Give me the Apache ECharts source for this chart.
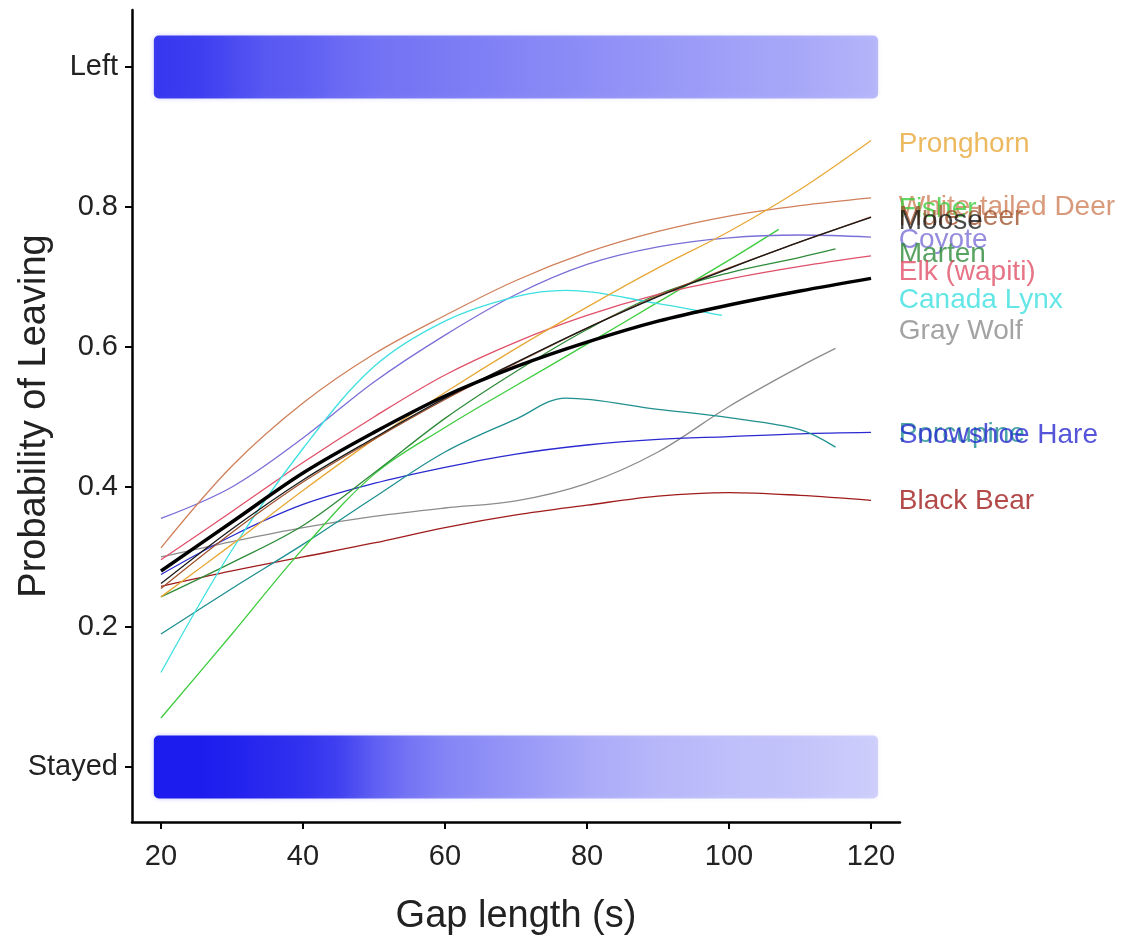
<!DOCTYPE html>
<html>
<head>
<meta charset="utf-8">
<script src="https://cdn.jsdelivr.net/npm/echarts@6/dist/echarts.min.js"></script>
<style>
html,body{margin:0;padding:0;background:#fff;}
#chart{width:1121px;height:946px;}
</style>
</head>
<body>
<div id="chart"></div>
<script>
// ---- tick labels ----
const xTicks = [20, 40, 60, 80, 100, 120];
const yTicks = [0, 0.2, 0.4, 0.6, 0.8, 1];
const yTickText = ['Stayed', '0.2', '0.4', '0.6', '0.8', 'Left'];

// ---- fitted curves (gap length -> probability of leaving) ----
const gapX = [20, 30, 40, 50, 60, 70, 80, 90, 100, 110, 120];
const overall = [0.280, 0.350, 0.420, 0.478, 0.530, 0.572, 0.607, 0.637, 0.660, 0.680, 0.698];
const pronghorn = [0.243, 0.318, 0.395, 0.468, 0.535, 0.598, 0.657, 0.713, 0.765, 0.825, 0.895];
const whiteTailedDeer = [0.313, 0.430, 0.520, 0.590, 0.645, 0.695, 0.735, 0.765, 0.787, 0.802, 0.813];
const muleDeer = [0.255, 0.335, 0.407, 0.468, 0.525, 0.577, 0.627, 0.673, 0.713, 0.750, 0.786];
const moose = [0.262, 0.340, 0.410, 0.470, 0.527, 0.578, 0.627, 0.672, 0.712, 0.750, 0.785];
const coyote = [0.355, 0.400, 0.470, 0.550, 0.617, 0.675, 0.718, 0.743, 0.756, 0.760, 0.757];
const elk = [0.296, 0.365, 0.435, 0.500, 0.560, 0.607, 0.645, 0.675, 0.697, 0.715, 0.730];
const snowshoeHare = [0.275, 0.330, 0.375, 0.405, 0.428, 0.447, 0.460, 0.468, 0.472, 0.476, 0.478];
const blackBear = [0.258, 0.280, 0.300, 0.320, 0.342, 0.360, 0.374, 0.387, 0.392, 0.388, 0.381];

const lynxX = [20, 30, 40, 50, 60, 70, 77, 90, 99];
const canadaLynx = [0.135, 0.310, 0.455, 0.572, 0.637, 0.672, 0.681, 0.662, 0.645];
const wolfX = [20, 30, 40, 50, 60, 70, 80, 90, 100, 110, 115];
const grayWolf = [0.300, 0.322, 0.342, 0.358, 0.370, 0.380, 0.405, 0.450, 0.515, 0.572, 0.598];
const porcupineX = [20, 30, 40, 50, 60, 70, 77, 90, 100, 110, 115];
const porcupine = [0.190, 0.255, 0.318, 0.385, 0.450, 0.497, 0.527, 0.511, 0.499, 0.482, 0.457];
const fisherX = [20, 30, 40, 50, 60, 70, 80, 90, 100, 107];
const fisher = [0.070, 0.190, 0.312, 0.418, 0.485, 0.545, 0.604, 0.664, 0.724, 0.768];
const martenX = [20, 30, 40, 50, 60, 70, 80, 90, 100, 110, 115];
const marten = [0.243, 0.292, 0.345, 0.420, 0.498, 0.565, 0.625, 0.675, 0.706, 0.728, 0.740];

// ---- species labels at right ----
const labelNames = ['Pronghorn', 'White-tailed Deer', 'Fisher', 'Mule deer', 'Moose', 'Coyote', 'Marten',
  'Elk (wapiti)', 'Canada Lynx', 'Gray Wolf', 'Porcupine', 'Snowshoe Hare', 'Black Bear'];
const labelY = [0.889, 0.800, 0.797, 0.785, 0.780, 0.753, 0.733, 0.707, 0.667, 0.623, 0.475, 0.474, 0.380];
const labelX = 123.9;

// ---- jittered observation bands (relative point density along gap length) ----
const densX = [19, 25, 30, 35, 40, 45, 50, 55, 60, 70, 80, 90, 100, 110, 121];
const leftDensity = [0.85, 0.82, 0.75, 0.68, 0.65, 0.60, 0.56, 0.54, 0.52, 0.48, 0.44, 0.40, 0.36, 0.33, 0.28];
const stayedDensity = [1.00, 1.00, 0.97, 0.92, 0.88, 0.80, 0.65, 0.55, 0.48, 0.40, 0.32, 0.27, 0.24, 0.22, 0.18];
const bandHalf = 0.045;

const colors = {
  pronghorn: '#E8A838', wtd: '#D0805A', fisher: '#3DCC3D', mule: '#A0522D', moose: '#1a1a1a',
  coyote: '#7A6FD6', marten: '#2E8B3A', elk: '#E05068', lynx: '#3DE0E0', wolf: '#8C8C8C',
  porcupine: '#1F8F8F', hare: '#2A2AD0', bear: '#A01C1C'
};
const labelColors = [colors.pronghorn, colors.wtd, colors.fisher, colors.mule, colors.moose, colors.coyote,
  colors.marten, colors.elk, colors.lynx, colors.wolf, colors.porcupine, colors.hare, colors.bear];

const FONT = '"Liberation Sans", Arial, sans-serif';

function zip(xs, ys) { return xs.map((x, i) => [x, ys[i]]); }
function lineSeries(name, xs, ys, color, width) {
  return {
    name, type: 'line', data: zip(xs, ys), smooth: 0.35, showSymbol: false, symbol: 'none',
    lineStyle: { color, width: width || 1.3 }, silent: true, z: 3
  };
}

const bands = [
  { y: 1, dens: leftDensity },
  { y: 0, dens: stayedDensity }
];

const chart = echarts.init(document.getElementById('chart'), null, { renderer: 'canvas' });
const option = {
  animation: false,
  backgroundColor: '#ffffff',
  grid: { left: 132, right: 221, top: 10, bottom: 124, containLabel: false, outerBoundsMode: 'none' },
  xAxis: {
    type: 'value', min: 15.92, max: 124.08,
    axisLine: { onZero: false, lineStyle: { color: '#000', width: 2.5 } },
    axisTick: { show: true, length: 7, customValues: xTicks, lineStyle: { color: '#000', width: 2 } },
    axisLabel: { customValues: xTicks, fontSize: 29, color: '#222', margin: 20, fontFamily: FONT },
    splitLine: { show: false },
    name: 'Gap length (s)', nameLocation: 'middle', nameGap: 76, nameMoveOverlap: false,
    nameTextStyle: { fontSize: 38, color: '#222', fontFamily: FONT }
  },
  yAxis: {
    type: 'value', min: -0.0786, max: 1.0814,
    axisLine: { onZero: false, lineStyle: { color: '#000', width: 2.5 } },
    axisTick: { show: true, length: 7, customValues: yTicks, lineStyle: { color: '#000', width: 2 } },
    axisLabel: {
      customValues: yTicks, fontSize: 29, color: '#222', margin: 14, fontFamily: FONT,
      formatter: v => { const i = yTicks.findIndex(t => Math.abs(t - v) < 1e-6); return i >= 0 ? yTickText[i] : ''; }
    },
    splitLine: { show: false },
    name: 'Probability of Leaving', nameLocation: 'middle', nameGap: 78, nameMoveOverlap: false,
    nameTextStyle: { fontSize: 38, color: '#222', fontFamily: FONT }
  },
  series: [
    {
      type: 'custom', silent: true, z: 1,
      data: bands.map(b => [densX[0], b.y]),
      renderItem: function (params, api) {
        const b = bands[params.dataIndex];
        const p1 = api.coord([densX[0], b.y + bandHalf]);
        const p2 = api.coord([densX[densX.length - 1], b.y - bandHalf]);
        const span = densX[densX.length - 1] - densX[0];
        const stops = densX.map((x, i) => ({
          offset: (x - densX[0]) / span,
          color: 'rgba(28,28,238,' + b.dens[i] + ')'
        }));
        return {
          type: 'rect',
          shape: { x: p1[0], y: p1[1], width: p2[0] - p1[0], height: p2[1] - p1[1], r: 5 },
          style: {
            fill: new echarts.graphic.LinearGradient(0, 0, 1, 0, stops),
            shadowBlur: 5, shadowColor: 'rgba(28,28,238,0.25)'
          }
        };
      }
    },
    lineSeries('Black Bear', gapX, blackBear, colors.bear),
    lineSeries('Gray Wolf', wolfX, grayWolf, colors.wolf),
    lineSeries('Snowshoe Hare', gapX, snowshoeHare, colors.hare),
    lineSeries('Porcupine', porcupineX, porcupine, colors.porcupine),
    lineSeries('Fisher', fisherX, fisher, colors.fisher),
    lineSeries('Marten', martenX, marten, colors.marten),
    lineSeries('Elk (wapiti)', gapX, elk, colors.elk),
    lineSeries('Coyote', gapX, coyote, colors.coyote),
    lineSeries('White-tailed Deer', gapX, whiteTailedDeer, colors.wtd),
    lineSeries('Canada Lynx', lynxX, canadaLynx, colors.lynx),
    lineSeries('Pronghorn', gapX, pronghorn, colors.pronghorn),
    lineSeries('Mule deer', gapX, muleDeer, colors.mule),
    lineSeries('Moose', gapX, moose, colors.moose),
    lineSeries('Overall', gapX, overall, '#000000', 3.5),
    {
      type: 'scatter', silent: true, clip: false, z: 5,
      symbolSize: 0.1, itemStyle: { color: 'rgba(0,0,0,0)' },
      data: labelNames.map((n, i) => ({
        name: n, value: [labelX, labelY[i]],
        label: { color: labelColors[i] }
      })),
      label: { show: true, position: 'right', distance: 0, formatter: '{b}', fontSize: 28, fontFamily: FONT },
      labelLayout: { hideOverlap: false }
    }
  ]
};
chart.setOption(option);
</script>
</body>
</html>
